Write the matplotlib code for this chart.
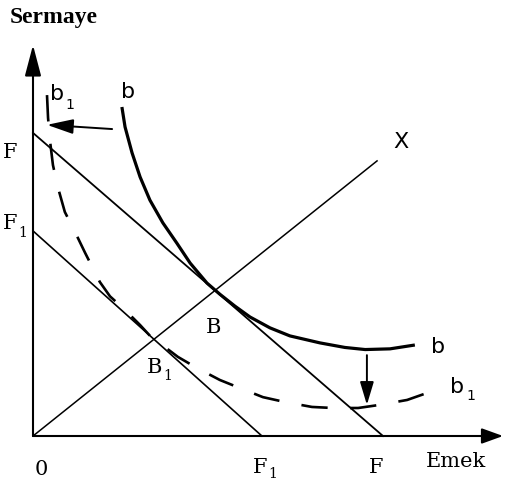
import numpy as np
import matplotlib
matplotlib.use('Agg')
import matplotlib.pyplot as plt

# ---- data (schematic units, F on the labour axis = 10)
budget_F = (10.0, 8.66)      # (x intercept, y intercept)
budget_F1 = (6.54, 5.86)
ray_end = (9.83, 7.86)

b_x = [2.54, 2.63, 2.83, 3.06, 3.34, 3.71, 4.11, 4.49, 4.97, 5.34, 5.77,
       6.20, 6.77, 7.34, 8.20, 8.91, 9.49, 10.20, 10.91]
b_y = [9.40, 8.83, 8.09, 7.40, 6.74, 6.09, 5.51, 4.94, 4.37, 4.05, 3.71,
       3.40, 3.09, 2.86, 2.66, 2.53, 2.47, 2.49, 2.60]

b1_x = [0.40, 0.43, 0.49, 0.57, 0.71, 0.91, 1.20, 1.49, 1.91, 2.20, 2.63,
        3.06, 3.40, 3.77, 4.14, 4.69, 5.34, 5.91, 6.57, 7.20, 7.97, 8.57,
        9.29, 9.91, 10.69, 11.26, 11.77]
b1_y = [9.74, 9.09, 8.40, 7.74, 7.11, 6.40, 5.83, 5.23, 4.40, 3.99, 3.60,
        3.17, 2.80, 2.54, 2.26, 1.94, 1.60, 1.37, 1.11, 0.97, 0.83, 0.80,
        0.80, 0.89, 1.03, 1.23, 1.37]

shift_left = ((2.26, 8.77), (0.40, 8.89))    # (tail, tip)
shift_down = ((9.54, 2.31), (9.54, 0.89))

fig = plt.figure(figsize=(5.05, 4.91), dpi=100)
ax = fig.add_axes([0, 0, 1, 1])
ax.set_xlim(-33 / 35, (505 - 33) / 35)
ax.set_ylim(-(491 - 436) / 35, 436 / 35)
ax.axis('off')

def arrow(tail, tip, hl, hw, lw=1.4):
    ax.annotate('', xy=tip, xytext=tail,
                arrowprops=dict(arrowstyle='-|>,head_length=%s,head_width=%s' % (hl, hw),
                                mutation_scale=1, lw=lw, color='black',
                                shrinkA=0, shrinkB=0))

# axes
arrow((0, 0), (0, 11.17), 19, 5, lw=1.5)
arrow((0, 0), (13.43, 0), 13, 4.7, lw=1.5)

# budget lines, ray
ax.plot([0, budget_F[0]], [budget_F[1], 0], color='black', lw=1.3)
ax.plot([0, budget_F1[0]], [budget_F1[1], 0], color='black', lw=1.2)
ax.plot([0, ray_end[0]], [0, ray_end[1]], color='black', lw=1.1)

# isoquants
ax.plot(b_x, b_y, color='black', lw=2.3, solid_capstyle='butt',
        solid_joinstyle='round')
l, = ax.plot(b1_x, b1_y, color='black', lw=1.9, dash_capstyle='butt')
l.set_dashes((10, 8.5))

arrow(*shift_left, 16, 4.5, lw=1.4)
arrow(*shift_down, 14, 4.2, lw=1.4)

serif = 'DejaVu Serif'
sans = 'DejaVu Sans'

def lab(x, y, s, fam, size=15):
    ax.text(x, y, s, family=fam, fontsize=size, ha='center', va='center')

lab(-0.65, 8.09, 'F', serif)
lab(-0.65, 6.06, 'F', serif)
lab(-0.30, 5.81, '1', serif, 10)
lab(0.23, -0.97, '0', serif)
lab(6.50, -0.91, 'F', serif)
lab(6.86, -1.09, '1', serif, 10)
lab(9.80, -0.91, 'F', serif)
lab(12.09, -0.74, 'Emek', serif)
lab(5.17, 3.11, 'B', serif)
lab(3.47, 1.97, 'B', serif)
lab(3.85, 1.70, '1', serif, 10)
lab(10.51, 8.40, 'X', sans, 16)
lab(2.71, 9.83, 'b', sans, 16)
lab(11.57, 2.54, 'b', sans, 16)
lab(12.11, 1.40, 'b', sans, 16)
lab(12.50, 1.13, '1', sans, 10)
lab(0.69, 9.77, 'b', sans, 16)
lab(1.04, 9.46, '1', sans, 10)

fig.text(10 / 505, 1 - 17 / 491, 'Sermaye', family='Liberation Serif',
         fontweight='bold', fontsize=17, ha='left', va='center')

fig.savefig('out.png', dpi=100)
